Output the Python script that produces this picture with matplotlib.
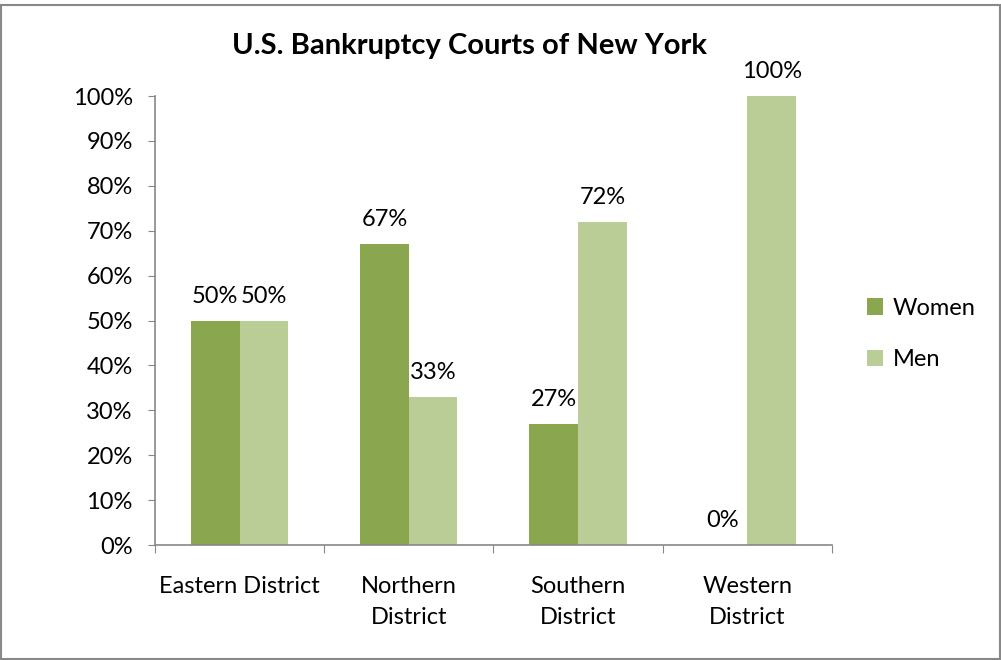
import numpy as np
import matplotlib
matplotlib.use("Agg")
import matplotlib.pyplot as plt
from matplotlib.patches import Rectangle

plt.rcParams['font.family'] = ['Lato', 'DejaVu Sans']

districts = ["Eastern District", "Northern\nDistrict", "Southern\nDistrict", "Western\nDistrict"]
women = [50, 67, 27, 0]
men = [50, 33, 72, 100]
yticks = [0, 10, 20, 30, 40, 50, 60, 70, 80, 90, 100]

c_women = '#8AA64F'
c_men = '#BACD97'
fs = 17

fig = plt.figure(figsize=(10.01, 6.6), dpi=100)
ax = fig.add_axes([0.1548, 0.1742, 0.6763, 0.6803])

x = np.arange(len(districts))
w = 0.287
b1 = ax.bar(x - w / 2, women, w, color=c_women, label='Women')
b2 = ax.bar(x + w / 2, men, w, color=c_men, label='Men')

for bars, vals in ((b1, women), (b2, men)):
    for r, v in zip(bars, vals):
        ax.annotate("%d%%" % v, (r.get_x() + r.get_width() / 2, v),
                    xytext=(0, 10), textcoords='offset points',
                    ha='center', va='bottom', fontsize=fs)

ax.set_xlim(-0.5, len(districts) - 0.5)
ax.set_ylim(0, 100)
ax.set_yticks(yticks)
ax.set_yticklabels(["%d%%" % t for t in yticks], fontsize=fs)
ax.set_xticks(np.arange(len(districts) + 1) - 0.5)
ax.set_xticklabels([])
ax.set_xticks(x, minor=True)
ax.set_xticklabels(districts, minor=True, fontsize=fs, va='top', linespacing=1.6)
ax.tick_params(axis='x', which='minor', length=0, pad=22)
ax.tick_params(axis='x', which='major', length=6, color='#888888', direction='out')
ax.tick_params(axis='y', length=5, color='#888888', direction='out', pad=11)

for s in ('top', 'right'):
    ax.spines[s].set_visible(False)
for s in ('left', 'bottom'):
    ax.spines[s].set_color('#888888')
    ax.spines[s].set_linewidth(1.2)

fig.text(0.469, 0.93, "U.S. Bankruptcy Courts of New York", ha='center', va='center',
         fontsize=21, fontweight='bold')

ax.legend(loc='center left', bbox_to_anchor=(1.02, 0.47), frameon=False, fontsize=fs,
          handlelength=0.7, handleheight=0.7, handletextpad=0.4, labelspacing=1.3)

fig.patches.append(Rectangle((0.001, 0.002), 0.998, 0.991, transform=fig.transFigure,
                             fill=False, edgecolor='#888888', linewidth=1.5))

fig.savefig("out.png", dpi=100)
